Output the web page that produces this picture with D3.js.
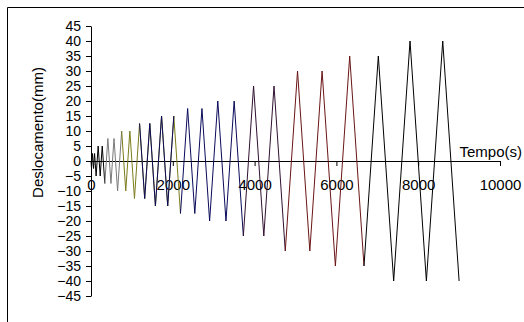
<!DOCTYPE html>
<html>
<head>
<meta charset="utf-8">
<script src="https://cdn.jsdelivr.net/npm/d3@7"></script>
<style>
  body { margin: 0; background: #fff; }
  svg { display: block; font-family: "Liberation Sans", Arial, sans-serif; }
</style>
</head>
<body>
<div id="chart"></div>
<script>
// vertices of the triangular displacement history
const tempo = [0, 12.5, 37.5, 62.5, 87.5, 125, 175, 225, 275, 337.5,
  412.5, 487.5, 562.5, 650, 750, 850, 950, 1062.5, 1187.5, 1312.5,
  1437.5, 1575, 1725, 1875, 2025, 2187.5, 2362.5, 2537.5, 2712.5, 2900,
  3100, 3300, 3500, 3725, 3975, 4225, 4475, 4750, 5050, 5350,
  5650, 5975, 6325, 6675, 7025, 7400, 7800, 8200, 8600, 9000];
const desloc = [0, -2.5, 2.5, -2.5, 2.5, -5, 5, -5, 5, -7.5,
  7.5, -7.5, 7.5, -10, 10, -10, 10, -12.5, 12.5, -12.5,
  12.5, -15, 15, -15, 15, -17.5, 17.5, -17.5, 17.5, -20,
  20, -20, 20, -25, 25, -25, 25, -30, 30, -30,
  30, -35, 35, -35, 35, -40, 40, -40, 40, -40];

// each series covers a range of vertices [from, to]
const serieInicio = [0, 9, 14, 18, 25, 33, 37, 43];
const serieFim = [9, 14, 25, 24, 33, 37, 43, 49];
const serieCor = ['#000000', '#7a7a7a', '#7c7c1c', '#0a0a5a', '#0a0a5a', '#301030', '#6a1414', '#000000'];

const xTicks = [0, 2000, 4000, 6000, 8000, 10000];
const yTicks = d3.range(-45, 46, 5);

const width = 524;
const height = 322;

const svg = d3.select('#chart').append('svg')
  .attr('width', width)
  .attr('height', height);

// chart area border (cut by the picture edge on the right and bottom)
svg.append('path')
  .attr('d', 'M7.5,' + height + 'V7.5H' + width)
  .attr('fill', 'none')
  .attr('stroke', '#000')
  .attr('stroke-width', 1);

const x = d3.scaleLinear().domain([0, 10000]).range([91, 500]);
const y = d3.scaleLinear().domain([-45, 45]).range([296, 26]);

const yAxis = svg.append('g')
  .attr('transform', 'translate(' + x(0) + ',0)')
  .call(d3.axisLeft(y).tickValues(yTicks).tickFormat(d3.format('d'))
    .tickSize(5).tickSizeOuter(0).tickPadding(5));

const xAxis = svg.append('g')
  .attr('transform', 'translate(0,' + y(0) + ')')
  .call(d3.axisBottom(x).tickValues(xTicks).tickFormat(d3.format('d'))
    .tickSize(5).tickSizeOuter(0).tickPadding(13));

yAxis.selectAll('text').attr('font-size', 14);
xAxis.selectAll('text').attr('font-size', 15);
[yAxis, xAxis].forEach((g) => {
  g.selectAll('text').attr('fill', '#000')
    .attr('font-family', '"Liberation Sans", Arial, sans-serif');
  g.selectAll('line,path').attr('stroke', '#000');
});

// lines
const line = d3.line()
  .x((i) => { return x(tempo[i]); })
  .y((i) => { return y(desloc[i]); });

serieInicio.forEach((ini, k) => {
  svg.append('path')
    .datum(d3.range(ini, serieFim[k] + 1))
    .attr('fill', 'none')
    .attr('stroke', serieCor[k])
    .attr('stroke-width', 1)
    .attr('d', line);
});

// axis titles
svg.append('text')
  .attr('x', 522)
  .attr('y', 157)
  .attr('text-anchor', 'end')
  .attr('font-size', 15)
  .text('Tempo(s)');

svg.append('text')
  .attr('transform', 'translate(43,132.5) rotate(-90)')
  .attr('text-anchor', 'middle')
  .attr('font-size', 15)
  .text('Deslocamento(mm)');
</script>
</body>
</html>
